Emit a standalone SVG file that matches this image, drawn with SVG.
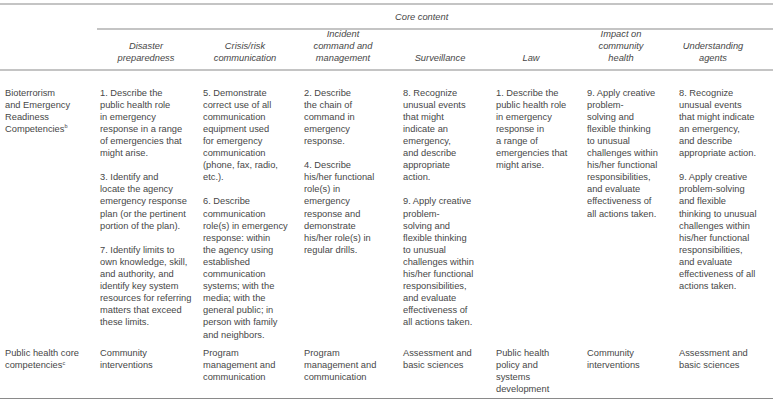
<svg xmlns="http://www.w3.org/2000/svg" width="773" height="401" viewBox="0 0 773 401">
<style>
text{font-family:"Liberation Sans",Arial,sans-serif;font-size:9.3px;fill:#474747}
.h{font-style:italic;text-anchor:middle}
.rule{stroke:#8a8a8a;stroke-width:1.2}
.sup{font-size:5.5px}
</style>
<rect width="773" height="401" fill="#fff"/>
<g id="rules">
<line class="rule" x1="0" y1="4" x2="773" y2="4"/>
<line class="rule" x1="97" y1="29" x2="773" y2="29"/>
<line class="rule" x1="0" y1="70" x2="773" y2="70"/>
<line class="rule" x1="0" y1="398.5" x2="773" y2="398.5"/>
</g>
<g id="header">
<text x="395" y="20" style="font-style:italic">Core content</text>
<text class="h" x="146" y="49">Disaster</text><text class="h" x="146" y="61">preparedness</text>
<text class="h" x="245" y="49">Crisis/risk</text><text class="h" x="245" y="61">communication</text>
<text class="h" x="343" y="37">Incident</text><text class="h" x="343" y="49">command and</text><text class="h" x="343" y="61">management</text>
<text class="h" x="440" y="61">Surveillance</text>
<text class="h" x="531" y="61">Law</text>
<text class="h" x="621" y="37">Impact on</text><text class="h" x="621" y="49">community</text><text class="h" x="621" y="61">health</text>
<text class="h" x="713" y="49">Understanding</text><text class="h" x="713" y="61">agents</text>
</g>
<g id="row1">
<text x="5" y="95.5">Bioterrorism</text>
<text x="5" y="107.6">and Emergency</text>
<text x="5" y="119.7">Readiness</text>
<text x="5" y="131.8">Competencies<tspan class="sup" dy="-3.5">b</tspan></text>
</g>
<g id="r1-disaster">
<text x="100" y="95.5">1. Describe the</text>
<text x="100" y="107.6">public health role</text>
<text x="100" y="119.7">in emergency</text>
<text x="100" y="131.8">response in a range</text>
<text x="100" y="143.9">of emergencies that</text>
<text x="100" y="156">might arise.</text>
<text x="100" y="180.2">3. Identify and</text>
<text x="100" y="192.3">locate the agency</text>
<text x="100" y="204.4">emergency response</text>
<text x="100" y="216.5">plan (or the pertinent</text>
<text x="100" y="228.6">portion of the plan).</text>
<text x="100" y="252.8">7. Identify limits to</text>
<text x="100" y="264.9">own knowledge, skill,</text>
<text x="100" y="277">and authority, and</text>
<text x="100" y="289.1">identify key system</text>
<text x="100" y="301.2">resources for referring</text>
<text x="100" y="313.3">matters that exceed</text>
<text x="100" y="325.4">these limits.</text>
</g>
<g id="r1-crisis">
<text x="203" y="95.5">5. Demonstrate</text>
<text x="203" y="107.6">correct use of all</text>
<text x="203" y="119.7">communication</text>
<text x="203" y="131.8">equipment used</text>
<text x="203" y="143.9">for emergency</text>
<text x="203" y="156">communication</text>
<text x="203" y="168.1">(phone, fax, radio,</text>
<text x="203" y="180.2">etc.).</text>
<text x="203" y="204.4">6. Describe</text>
<text x="203" y="216.5">communication</text>
<text x="203" y="228.6">role(s) in emergency</text>
<text x="203" y="240.7">response: within</text>
<text x="203" y="252.8">the agency using</text>
<text x="203" y="264.9">established</text>
<text x="203" y="277">communication</text>
<text x="203" y="289.1">systems; with the</text>
<text x="203" y="301.2">media; with the</text>
<text x="203" y="313.3">general public; in</text>
<text x="203" y="325.4">person with family</text>
<text x="203" y="337.5">and neighbors.</text>
</g>
<g id="r1-incident">
<text x="304" y="95.5">2. Describe</text>
<text x="304" y="107.6">the chain of</text>
<text x="304" y="119.7">command in</text>
<text x="304" y="131.8">emergency</text>
<text x="304" y="143.9">response.</text>
<text x="304" y="168.1">4. Describe</text>
<text x="304" y="180.2">his/her functional</text>
<text x="304" y="192.3">role(s) in</text>
<text x="304" y="204.4">emergency</text>
<text x="304" y="216.5">response and</text>
<text x="304" y="228.6">demonstrate</text>
<text x="304" y="240.7">his/her role(s) in</text>
<text x="304" y="252.8">regular drills.</text>
</g>
<g id="r1-surveillance">
<text x="403" y="95.5">8. Recognize</text>
<text x="403" y="107.6">unusual events</text>
<text x="403" y="119.7">that might</text>
<text x="403" y="131.8">indicate an</text>
<text x="403" y="143.9">emergency,</text>
<text x="403" y="156">and describe</text>
<text x="403" y="168.1">appropriate</text>
<text x="403" y="180.2">action.</text>
<text x="403" y="204.4">9. Apply creative</text>
<text x="403" y="216.5">problem-</text>
<text x="403" y="228.6">solving and</text>
<text x="403" y="240.7">flexible thinking</text>
<text x="403" y="252.8">to unusual</text>
<text x="403" y="264.9">challenges within</text>
<text x="403" y="277">his/her functional</text>
<text x="403" y="289.1">responsibilities,</text>
<text x="403" y="301.2">and evaluate</text>
<text x="403" y="313.3">effectiveness of</text>
<text x="403" y="325.4">all actions taken.</text>
</g>
<g id="r1-law">
<text x="496" y="95.5">1. Describe the</text>
<text x="496" y="107.6">public health role</text>
<text x="496" y="119.7">in emergency</text>
<text x="496" y="131.8">response in</text>
<text x="496" y="143.9">a range of</text>
<text x="496" y="156">emergencies that</text>
<text x="496" y="168.1">might arise.</text>
</g>
<g id="r1-impact">
<text x="587" y="95.5">9. Apply creative</text>
<text x="587" y="107.6">problem-</text>
<text x="587" y="119.7">solving and</text>
<text x="587" y="131.8">flexible thinking</text>
<text x="587" y="143.9">to unusual</text>
<text x="587" y="156">challenges within</text>
<text x="587" y="168.1">his/her functional</text>
<text x="587" y="180.2">responsibilities,</text>
<text x="587" y="192.3">and evaluate</text>
<text x="587" y="204.4">effectiveness of</text>
<text x="587" y="216.5">all actions taken.</text>
</g>
<g id="r1-understanding">
<text x="679" y="95.5">8. Recognize</text>
<text x="679" y="107.6">unusual events</text>
<text x="679" y="119.7">that might indicate</text>
<text x="679" y="131.8">an emergency,</text>
<text x="679" y="143.9">and describe</text>
<text x="679" y="156">appropriate action.</text>
<text x="679" y="180.2">9. Apply creative</text>
<text x="679" y="192.3">problem-solving</text>
<text x="679" y="204.4">and flexible</text>
<text x="679" y="216.5">thinking to unusual</text>
<text x="679" y="228.6">challenges within</text>
<text x="679" y="240.7">his/her functional</text>
<text x="679" y="252.8">responsibilities,</text>
<text x="679" y="264.9">and evaluate</text>
<text x="679" y="277">effectiveness of all</text>
<text x="679" y="289.1">actions taken.</text>
</g>
<g id="row2">
<text x="5" y="356">Public health core</text>
<text x="5" y="368.1">competencies<tspan class="sup" dy="-3.5">c</tspan></text>
<text x="100" y="356">Community</text>
<text x="100" y="368.1">interventions</text>
<text x="203" y="356">Program</text>
<text x="203" y="368.1">management and</text>
<text x="203" y="380.2">communication</text>
<text x="304" y="356">Program</text>
<text x="304" y="368.1">management and</text>
<text x="304" y="380.2">communication</text>
<text x="403" y="356">Assessment and</text>
<text x="403" y="368.1">basic sciences</text>
<text x="496" y="356">Public health</text>
<text x="496" y="368.1">policy and</text>
<text x="496" y="380.2">systems</text>
<text x="496" y="392.3">development</text>
<text x="587" y="356">Community</text>
<text x="587" y="368.1">interventions</text>
<text x="679" y="356">Assessment and</text>
<text x="679" y="368.1">basic sciences</text>
</g>
</svg>
